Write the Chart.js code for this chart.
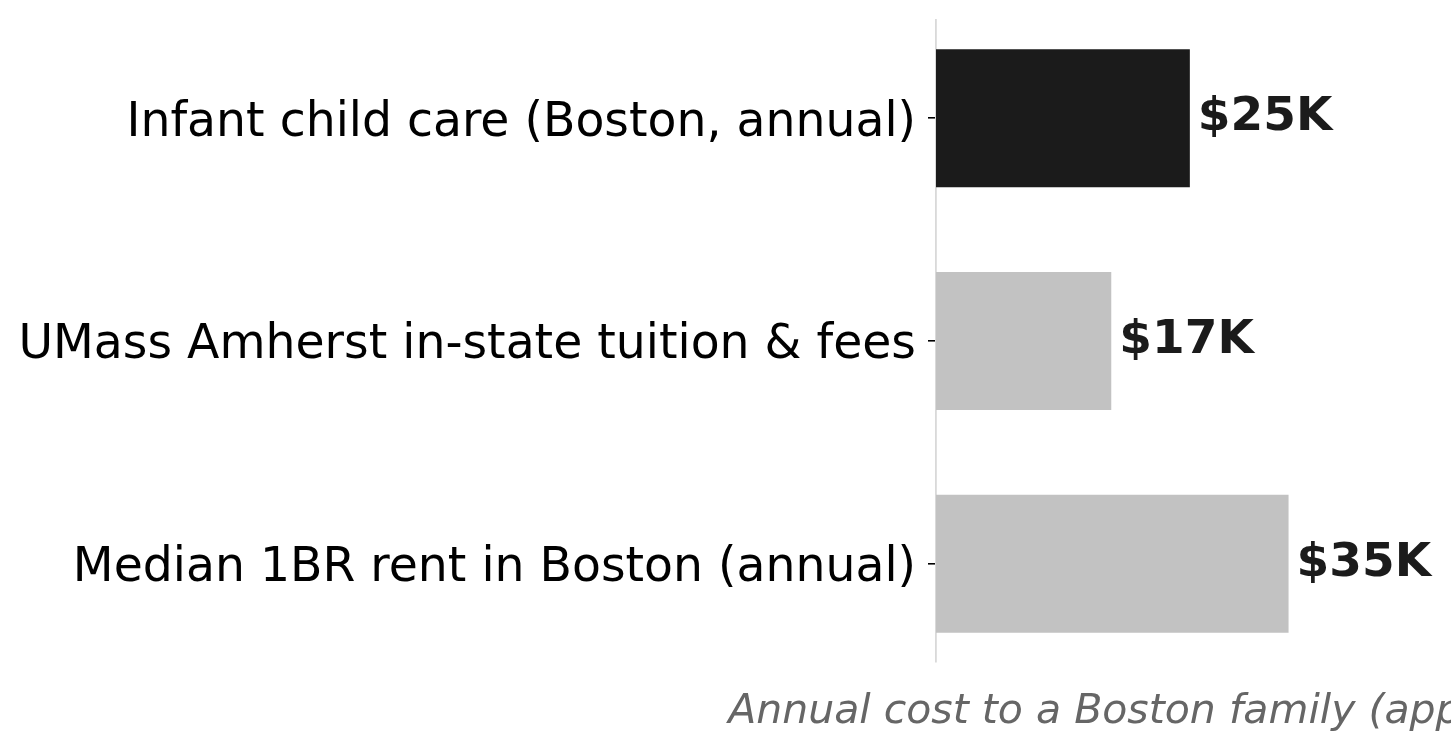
<!DOCTYPE html>
<html>
<head>
<meta charset="utf-8">
<script src="https://cdn.jsdelivr.net/npm/chart.js@4"></script>
<style>
  html, body { margin: 0; padding: 0; background: #fff; overflow: hidden; }
  #wrap { width: 1451px; height: 752px; }
</style>
</head>
<body>
<div id="wrap"><canvas id="grafico"></canvas></div>
<script>
const categorias = [
    "Infant child care (Boston, annual)",
    "UMass Amherst in-state tuition & fees",
    "Median 1BR rent in Boston (annual)"
];
const costoMiles = [25.2, 17.4, 35.0];
const etiquetas = ["$25K", "$17K", "$35K"];
const colores = ["#1b1b1b", "#c2c2c2", "#c2c2c2"];
const tituloX = "Annual cost to a Boston family (approx.)";

const fuente = "'DejaVu Sans', sans-serif";

// etiquetas de valor al final de cada barra
const etiquetasValor = {
    id: "etiquetasValor",
    afterDatasetsDraw(chart) {
        const ctx = chart.ctx;
        const meta = chart.getDatasetMeta(0);
        ctx.save();
        ctx.font = "bold 47px " + fuente;
        ctx.fillStyle = "#1b1b1b";
        ctx.textAlign = "left";
        ctx.textBaseline = "middle";
        meta.data.forEach((bar, i) => {
            ctx.fillText(etiquetas[i], bar.x + 8, bar.y);
        });
        ctx.restore();
    }
};

// titulo del eje x, sin recortar su ancho al area del grafico
const tituloEjeX = {
    id: "tituloEjeX",
    afterDraw(chart) {
        const ctx = chart.ctx;
        const area = chart.chartArea;
        ctx.save();
        ctx.font = "italic 41px " + fuente;
        ctx.fillStyle = "#666666";
        ctx.textAlign = "center";
        ctx.textBaseline = "alphabetic";
        ctx.fillText(tituloX, (area.left + area.right) / 2, 723);
        ctx.restore();
    }
};

const grafico = document.getElementById("grafico").getContext("2d");
const myChart = new Chart(grafico, {
    type: "bar",
    data: {
        datasets: [{
            data: costoMiles.map((v, i) => ({ x: v, y: i })),
            backgroundColor: colores,
            borderWidth: 0,
            barPercentage: 0.62,
            categoryPercentage: 1
        }]
    },
    options: {
        indexAxis: "y",
        responsive: true,
        maintainAspectRatio: false,
        animation: false,
        layout: { padding: { top: 20, right: 102, bottom: 0, left: 0 } },
        plugins: {
            legend: { display: false },
            tooltip: { enabled: false }
        },
        scales: {
            y: {
                type: "linear",
                min: -0.441,
                max: 2.441,
                reverse: true,
                offset: false,
                afterBuildTicks: (scale) => {
                    scale.ticks = categorias.map((c, i) => ({ value: i }));
                },
                afterFit: (scale) => {
                    scale.width = 936;
                    scale.paddingTop = 0;
                    scale.paddingBottom = 0;
                },
                ticks: {
                    autoSkip: false,
                    padding: 12,
                    labelOffset: 5,
                    color: "#000",
                    font: { family: fuente, size: 47.3 },
                    callback: (value) => categorias[value]
                },
                grid: {
                    display: true,
                    offset: false,
                    drawOnChartArea: false,
                    drawTicks: true,
                    tickLength: 8,
                    color: "#000",
                    lineWidth: 1.6
                },
                border: { display: true, color: "#d9d9d9", width: 1.8 }
            },
            x: {
                type: "linear",
                min: 0,
                max: 41,
                afterFit: (scale) => {
                    scale.height = 90;
                    scale.paddingLeft = 0;
                    scale.paddingRight = 0;
                },
                ticks: { display: false },
                grid: { display: false },
                border: { display: false }
            }
        }
    },
    plugins: [etiquetasValor, tituloEjeX]
});
</script>
</body>
</html>
